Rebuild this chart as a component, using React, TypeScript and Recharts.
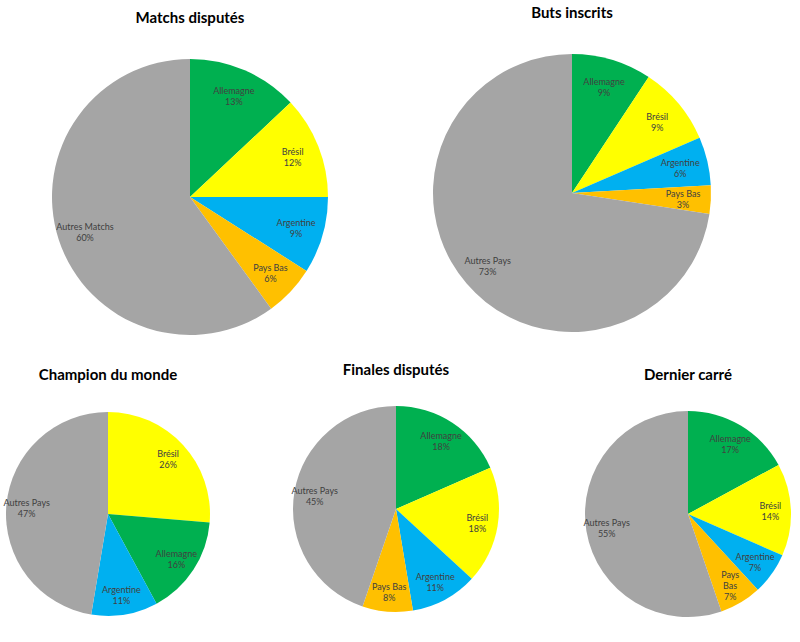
import React from "react";
import { PieChart, Pie, Cell } from "recharts";

const namesMatchs = ["Allemagne", "Brésil", "Argentine", "Pays Bas", "Autres Matchs"];
const valuesMatchs = [13, 12, 9, 6, 60];

const namesButs = ["Allemagne", "Brésil", "Argentine", "Pays Bas", "Autres Pays"];
const valuesButs = [9.3, 9.2, 5.6, 3.3, 72.6];

const namesChampion = ["Brésil", "Allemagne", "Argentine", "Autres Pays"];
const valuesChampion = [5, 3, 2, 9];

const namesFinales = ["Allemagne", "Brésil", "Argentine", "Pays Bas", "Autres Pays"];
const valuesFinales = [7, 7, 4, 3, 17];

const namesCarre = ["Allemagne", "Brésil", "Argentine", "Pays Bas", "Autres Pays"];
const valuesCarre = [13, 11, 5, 5, 42];

const titles = ["Matchs disputés", "Buts inscrits", "Champion du monde", "Finales disputés", "Dernier carré"];

const colorOf: Record<string, string> = {
  "Allemagne": "#00B050",
  "Brésil": "#FFFF00",
  "Argentine": "#00B0F0",
  "Pays Bas": "#FFC000",
  "Autres Matchs": "#A5A5A5",
  "Autres Pays": "#A5A5A5",
};

const build = (names: string[], values: number[]) =>
  names.map((n, i) => ({ name: n, value: values[i] }));

const RAD = Math.PI / 180;

const makeLabel = (ratio: number, wrap: string[]) => (props: any) => {
  const { cx, cy, midAngle, outerRadius, percent, name } = props;
  const r = outerRadius * ratio;
  const x = cx + r * Math.cos(-midAngle * RAD);
  const y = cy + r * Math.sin(-midAngle * RAD);
  const pct = `${Math.round(percent * 100)}%`;
  const lines = wrap.includes(name) ? [...name.split(" "), pct] : [name, pct];
  const lh = 11;
  const y0 = y - ((lines.length - 1) * lh) / 2;
  return (
    <text
      x={x}
      y={y0}
      textAnchor="middle"
      dominantBaseline="central"
      fontFamily="Lato, 'Open Sans', sans-serif"
      fontSize={9}
      fill="#404040"
    >
      {lines.map((l, i) => (
        <tspan key={i} x={x} y={y0 + i * lh}>
          {l}
        </tspan>
      ))}
    </text>
  );
};

const pies = [
  { data: build(namesMatchs, valuesMatchs), cx: 190, cy: 197, r: 138, title: titles[0], ty: 17, wrap: [] as string[] },
  { data: build(namesButs, valuesButs), cx: 572, cy: 193, r: 139, title: titles[1], ty: 12, wrap: [] as string[] },
  { data: build(namesChampion, valuesChampion), cx: 108, cy: 514, r: 102, title: titles[2], ty: 374, wrap: [] as string[] },
  { data: build(namesFinales, valuesFinales), cx: 396, cy: 509, r: 103, title: titles[3], ty: 369, wrap: [] as string[] },
  { data: build(namesCarre, valuesCarre), cx: 688, cy: 514, r: 103, title: titles[4], ty: 374, wrap: ["Pays Bas"] },
];

export default function App() {
  return (
    <div style={{ position: "absolute", left: 0, top: 0, width: 800, height: 642, background: "#fff" }}>
      <PieChart width={800} height={642} margin={{ top: 0, right: 0, bottom: 0, left: 0 }}>
        {pies.map((p, i) => (
          <Pie
            key={i}
            data={p.data}
            dataKey="value"
            nameKey="name"
            cx={p.cx}
            cy={p.cy}
            outerRadius={p.r}
            innerRadius={0}
            startAngle={90}
            endAngle={-270}
            stroke="none"
            isAnimationActive={false}
            labelLine={false}
            label={makeLabel(0.8, p.wrap)}
          >
            {p.data.map((d, j) => (
              <Cell key={j} fill={colorOf[d.name]} />
            ))}
          </Pie>
        ))}
      </PieChart>
      {pies.map((p, i) => (
        <div
          key={i}
          style={{
            position: "absolute",
            left: p.cx - 120,
            width: 240,
            top: p.ty - 10,
            height: 20,
            lineHeight: "20px",
            textAlign: "center",
            fontFamily: "Lato, 'Open Sans', sans-serif",
            fontWeight: 700,
            fontSize: 15,
            color: "#000",
          }}
        >
          {p.title}
        </div>
      ))}
    </div>
  );
}
